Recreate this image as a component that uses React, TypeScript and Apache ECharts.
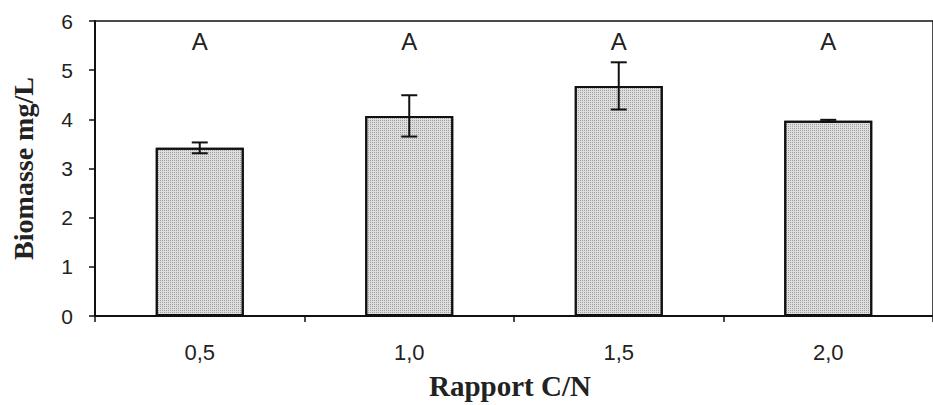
import React, { useEffect, useRef } from "react";
import * as echarts from "echarts";

// C/N ratio categories and measured biomass
const categories = ["0,5", "1,0", "1,5", "2,0"];
const biomass = [3.42, 4.07, 4.68, 3.97];
const errors = [0.11, 0.42, 0.48, 0.02];
const groupLetters = ["A", "A", "A", "A"];
const letterLevel = 5.58;

export default function App() {
  const ref = useRef<HTMLDivElement>(null);

  useEffect(() => {
    document.body.style.margin = "0";
    const chart = echarts.init(ref.current!, null, { renderer: "svg" });

    chart.setOption({
      animation: false,
      backgroundColor: "#ffffff",
      grid: {
        left: 95,
        top: 21,
        width: 846,
        height: 299,
        show: true,
        borderColor: "#111",
        borderWidth: 1.5,
      },
      xAxis: {
        type: "category",
        data: categories,
        boundaryGap: true,
        axisLine: { lineStyle: { color: "#111", width: 2 } },
        axisTick: { show: true, interval: 0, length: 6, lineStyle: { color: "#111", width: 1.5 } },
        axisLabel: {
          margin: 25,
          fontFamily: "Arial, Liberation Sans, sans-serif",
          fontSize: 22,
          color: "#222",
        },
        name: "Rapport C/N",
        nameLocation: "middle",
        nameGap: 55,
        nameTextStyle: {
          fontFamily: "Liberation Serif, Times New Roman, serif",
          fontWeight: "bold",
          fontSize: 29,
          color: "#222",
          padding: [0, 8, 0, 0],
        },
      },
      yAxis: {
        type: "value",
        min: 0,
        max: 6,
        interval: 1,
        splitLine: { show: false },
        axisLine: { show: true, lineStyle: { color: "#111", width: 2 } },
        axisTick: { show: true, length: 6, lineStyle: { color: "#111", width: 1.5 } },
        axisLabel: {
          margin: 22,
          fontFamily: "Arial, Liberation Sans, sans-serif",
          fontSize: 21,
          color: "#222",
        },
        name: "Biomasse mg/L",
        nameLocation: "middle",
        nameGap: 58,
        nameTextStyle: {
          fontFamily: "Liberation Serif, Times New Roman, serif",
          fontWeight: "bold",
          fontSize: 28,
          color: "#222",
        },
      },
      series: [
        {
          type: "bar",
          data: biomass,
          barWidth: "42%",
          itemStyle: {
            color: "#dedede",
            borderColor: "#111",
            borderWidth: 2,
            decal: {
              symbol: "rect",
              symbolSize: 1,
              dashArrayX: [1, 1],
              dashArrayY: [1, 1],
              rotation: 0,
              color: "rgba(80,80,80,0.45)",
            },
          },
          z: 2,
        },
        {
          type: "custom",
          data: biomass.map((v, i) => [i, v, errors[i]]),
          z: 5,
          renderItem: (params: any, api: any) => {
            const i = api.value(0);
            const v = api.value(1);
            const e = api.value(2);
            const hi = api.coord([i, v + e]);
            const lo = api.coord([i, v - e]);
            const cap = 8;
            const style = { stroke: "#111", lineWidth: 2 };
            return {
              type: "group",
              children: [
                { type: "line", shape: { x1: hi[0], y1: hi[1], x2: lo[0], y2: lo[1] }, style },
                { type: "line", shape: { x1: hi[0] - cap, y1: hi[1], x2: hi[0] + cap, y2: hi[1] }, style },
                { type: "line", shape: { x1: lo[0] - cap, y1: lo[1], x2: lo[0] + cap, y2: lo[1] }, style },
              ],
            };
          },
        },
        {
          type: "custom",
          data: groupLetters.map((t, i) => [i, letterLevel]),
          z: 6,
          renderItem: (params: any, api: any) => {
            const p = api.coord([api.value(0), api.value(1)]);
            return {
              type: "text",
              x: p[0],
              y: p[1],
              style: {
                text: groupLetters[params.dataIndex],
                fontFamily: "Arial, Liberation Sans, sans-serif",
                fontSize: 24,
                fill: "#222",
                align: "center",
                verticalAlign: "middle",
              },
            };
          },
        },
      ],
    });

    return () => chart.dispose();
  }, []);

  return <div ref={ref} style={{ width: 933, height: 405 }} />;
}
